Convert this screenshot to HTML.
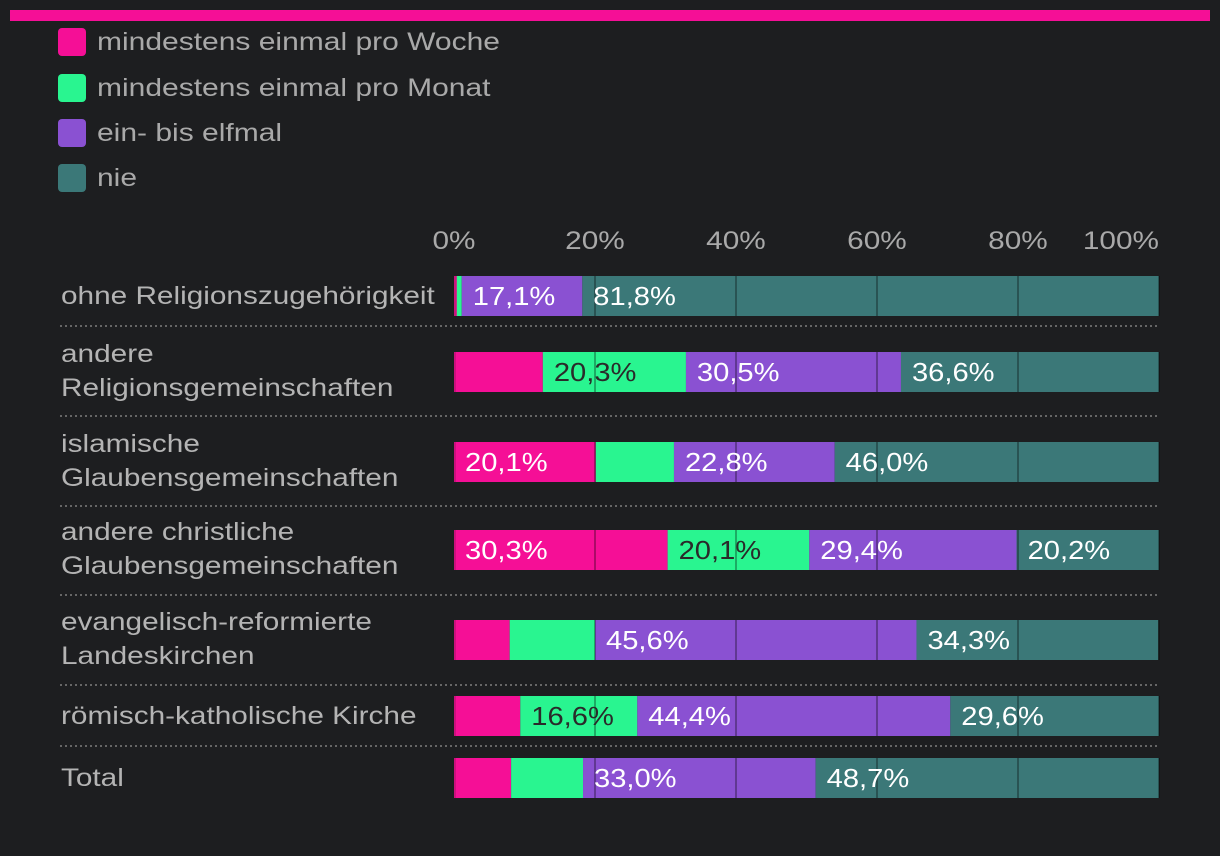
<!DOCTYPE html>
<html><head><meta charset="utf-8"><style>
html,body{margin:0;padding:0;background:#1d1e20;}
svg{display:block;font-family:"Liberation Sans",sans-serif;}
</style></head><body>
<svg id="c" width="1220" height="856" viewBox="0 0 1220 856">
<rect x="10" y="10" width="1200" height="11" fill="#f50f96"/>
<g id="legend"></g>
<g id="axis"></g>
<g id="rows"></g>
<g id="grid"></g>
<g id="labels"></g>
</svg>
<script>
const categories = ["ohne Religionszugehörigkeit","andere|Religionsgemeinschaften","islamische|Glaubensgemeinschaften","andere christliche|Glaubensgemeinschaften","evangelisch-reformierte|Landeskirchen","römisch-katholische Kirche","Total"];
const seriesNames = ["mindestens einmal pro Woche","mindestens einmal pro Monat","ein- bis elfmal","nie"];
const weekly = [0.4, 12.6, 20.1, 30.3, 7.9, 9.4, 8.1];
const monthly = [0.7, 20.3, 11.1, 20.1, 12.1, 16.6, 10.2];
const yearly = [17.1, 30.5, 22.8, 29.4, 45.6, 44.4, 33.0];
const never = [81.8, 36.6, 46.0, 20.2, 34.3, 29.6, 48.7];
const ticks = [0, 20, 40, 60, 80, 100];
const colors = ["#f50f96","#29f590","#8a51d2","#3b7878"];
const rowTops = [276,352,442,530,620,696,758];
const ns = "http://www.w3.org/2000/svg";
function mk(tag, attrs, parent, txt){const e=document.createElementNS(ns,tag);for(const k in attrs)e.setAttribute(k,attrs[k]);if(txt!==undefined)e.textContent=txt;parent.appendChild(e);return e;}
function widen(t,f){const w=t.getComputedTextLength();t.setAttribute('textLength',(w*f).toFixed(1));t.setAttribute('lengthAdjust','spacingAndGlyphs');}
const x0=454, x1=1159;
function xs(v){return x0+(x1-x0)*v/100;}
const lg=document.getElementById('legend');
const ly=[28,74,119,164];
seriesNames.forEach((n,i)=>{
  const r=mk('rect',{x:58,y:ly[i],width:28,height:28,rx:4,fill:colors[i]},lg);
  
  
  const t=mk('text',{x:97,y:ly[i]+22,'font-size':25,fill:'#a9a9a9'},lg,n);
  
  
  widen(t,1.2);
});
const ax=document.getElementById('axis');
ticks.forEach(t=>{
  const e=mk('text',{x:0,y:249,'font-size':25,fill:'#a9a9a9'},ax,t+'%');
  
  
  const w=e.getComputedTextLength()*1.19;
  widen(e,1.19);
  const xx = t===100 ? xs(t)-w : xs(t)-w/2;
  e.setAttribute('x',xx.toFixed(1));
});
const rows=document.getElementById('rows'), lab=document.getElementById('labels'), grid=document.getElementById('grid');
const series=[weekly,monthly,yearly,never];
categories.forEach((c,ri)=>{
  const y=rowTops[ri];
  const parts=c.split('|');
  parts.forEach((p,pi)=>{
    const off = parts.length===1 ? 28 : (pi===0? 10 : 44);
    const t=mk('text',{x:61,y:y+off,'font-size':25,fill:'#b4b4b4'},rows,p);
    
    
    widen(t,1.19);
  });
  let acc=0;
  series.forEach((s,si)=>{
    const v=s[ri];
    const r=mk('rect',{x:xs(acc),y:y,width:xs(acc+v)-xs(acc),height:40,fill:colors[si]},rows);
    
    
    if(v>=15){
      const t=mk('text',{x:xs(acc)+11,y:y+29,'font-size':26,fill:si===1?'#2a2a2a':'#ffffff'},lab,v.toFixed(1).replace('.',',')+'%');
      
      
      widen(t,1.12);
    }
    acc+=v;
  });
  mk('rect',{x:x0,y:y,width:2,height:40,fill:'#b0106e',opacity:0.6},rows);
  [20,40,60,80,100].forEach(t=>{
    const l=mk('line',{x1:xs(t),x2:xs(t),y1:y,y2:y+40,stroke:'#000',"stroke-opacity":0.3,"stroke-width":2},grid);
    
    
  });
  if(ri<categories.length-1){
    const sy=[326,416,506,595,685,746][ri];
    const l=mk('line',{x1:60,x2:1160,y1:sy,y2:sy,stroke:'#666','stroke-width':2,'stroke-dasharray':'2,3'},rows);
    
    
  }
});
</script>
</body></html>
